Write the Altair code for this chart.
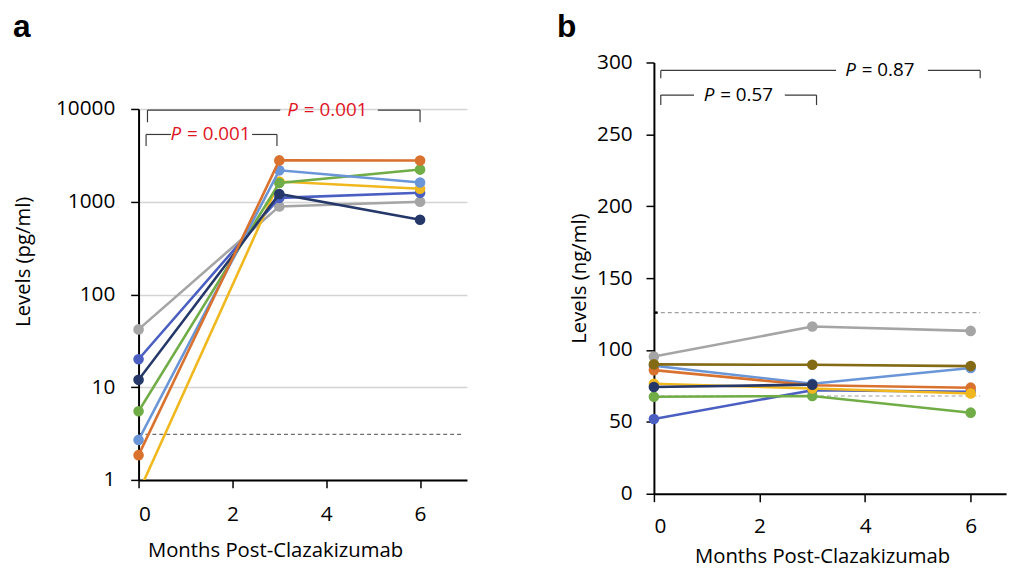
import altair as alt
import pandas as pd

MONTHS = [0, 3, 6]

COLORS = {
    "gray": "#A5A5A5",
    "royal": "#4A5FC1",
    "navy": "#253869",
    "green": "#70AD47",
    "lightblue": "#6A96D8",
    "orange": "#D9722F",
    "yellow": "#F0B81E",
    "olive": "#836A14",
}

# ---- Panel a (pg/ml, log scale)
A_SERIES = ["gray", "royal", "yellow", "green", "lightblue", "navy", "orange"]
A_M0 = [42, 20, 0.73, 5.5, 2.7, 12, 1.85]
A_M3 = [890, 1100, 1650, 1590, 2180, 1210, 2790]
A_M6 = [1000, 1250, 1380, 2220, 1610, 640, 2780]
A_LIMIT = 3.1
A_YTICKS = [1, 10, 100, 1000, 10000]

# brackets panel a
A_BR_X1 = [0.19, 0.16]
A_BR_X2 = [6.0, 2.95]
A_BR_Y = [9730, 5310]
A_BR_YT = [7180, 3990]
A_GAP1 = [3.02, 0.69]
A_GAP2 = [5.10, 2.42]
A_TXT_X = [3.46, 0.97]
A_P = ["= 0.001", "= 0.001"]

# ---- Panel b (ng/ml, linear)
B_SERIES = ["royal", "lightblue", "green", "orange", "yellow", "navy", "gray", "olive"]
B_M0 = [52, 89, 67.5, 86, 76.5, 74.3, 95.4, 90]
B_M3 = [72, 76.5, 68, 75.5, 73.2, 75.9, 116.3, 89.7]
B_M6 = [71, 87.5, 56.4, 73.8, 69.7, None, 113.3, 88.8]
B_LIMITS = [126, 68]
B_YTICKS = [0, 50, 100, 150, 200, 250, 300]

B_BR_X1 = [0.13, 0.13]
B_BR_X2 = [6.18, 3.08]
B_BR_Y = [294.5, 277.3]
B_BR_YT = [289, 270.4]
B_GAP1 = [3.45, 0.76]
B_GAP2 = [5.19, 2.48]
B_TXT_X = [3.88, 1.20]
B_P = ["= 0.87", "= 0.57"]

FONT = "Open Sans"
FS_LABEL = 21
FS_TITLE = 20.5
FS_P = 19


def long_df(series, m0, m3, m6):
    rows = []
    for i, s in enumerate(series):
        for m, v in zip(MONTHS, [m0[i], m3[i], m6[i]]):
            if v is not None:
                rows.append({"series": s, "month": m, "value": v})
    return pd.DataFrame(rows)


def bracket_df(x1, x2, y, yt, g1, g2):
    rows = []
    for i in range(len(x1)):
        rows.append({"xa": x1[i], "xb": g1[i], "ya": y[i], "yb": y[i]})
        rows.append({"xa": g2[i], "xb": x2[i], "ya": y[i], "yb": y[i]})
        rows.append({"xa": x1[i], "xb": x1[i], "ya": y[i], "yb": yt[i]})
        rows.append({"xa": x2[i], "xb": x2[i], "ya": y[i], "yb": yt[i]})
    return pd.DataFrame(rows)


def panel(df, series, xscale, yscale, xaxis, yaxis, width, height,
          limits, lim_end, lim_color, brackets, txt_x, txt_y, txt_p, txt_color):
    X = lambda f: alt.X(f, type="quantitative", scale=xscale, axis=xaxis)
    Y = lambda f: alt.Y(f, type="quantitative", scale=yscale, axis=yaxis)
    ymin = yscale.domain[0]
    layers = []
    lim_df = pd.DataFrame({"lim": limits})
    layers.append(
        alt.Chart(lim_df).mark_rule(strokeDash=[4, 3], strokeWidth=1.1, color=lim_color)
        .encode(x=alt.datum(0), x2=alt.datum(lim_end),
                y=alt.Y("lim:Q", scale=yscale, axis=yaxis))
    )
    layers.append(
        alt.Chart(lim_df).mark_rule(strokeWidth=2.5, color="black")
        .encode(x=alt.datum(0), x2=alt.datum(0.07),
                y=alt.Y("lim:Q", scale=yscale, axis=yaxis))
    )
    for s in series:
        sub = df[df.series == s]
        layers.append(
            alt.Chart(sub).mark_line(strokeWidth=2.6, clip=True, color=COLORS[s])
            .encode(x=X("month"), y=Y("value"))
        )
        # points outside the axis range are not drawn (off-scale)
        layers.append(
            alt.Chart(sub[sub.value >= ymin]).mark_circle(size=115, opacity=1,
                                                         color=COLORS[s])
            .encode(x=X("month"), y=Y("value"))
        )
    layers.append(
        alt.Chart(brackets).mark_rule(strokeWidth=1.2, color="#3a3a3a")
        .encode(x=X("xa"), x2="xb", y=Y("ya"), y2="yb")
    )
    tdf = pd.DataFrame({"tx": txt_x, "ty": txt_y, "tp": txt_p})
    layers.append(
        alt.Chart(tdf).mark_text(text="P", fontStyle="italic", align="right",
                                 baseline="middle", dx=-3, font=FONT,
                                 fontSize=FS_P, color=txt_color)
        .encode(x=X("tx"), y=Y("ty"))
    )
    layers.append(
        alt.Chart(tdf).mark_text(align="left", baseline="middle", dx=3,
                                 font=FONT, fontSize=FS_P, color=txt_color)
        .encode(x=X("tx"), y=Y("ty"), text="tp:N")
    )
    return alt.layer(*layers).properties(width=width, height=height)


def letter_box(letter, width, height, lx, ly):
    ldf = pd.DataFrame({"t": [letter]})
    return alt.Chart(ldf).mark_text(
        align="left", baseline="alphabetic", font="Liberation Sans",
        fontWeight="bold", fontSize=32, color="black"
    ).encode(x=alt.value(lx), y=alt.value(ly), text="t:N").properties(
        width=width, height=height)


axis_common = dict(
    domainColor="black", domainWidth=2, tickColor="black", tickWidth=1.5,
    tickSize=8, labelFont=FONT, labelFontSize=FS_LABEL, labelColor="black",
    titleFont=FONT, titleFontSize=FS_TITLE, titleFontWeight="normal",
    titleColor="black",
)

# panel a
dfa = long_df(A_SERIES, A_M0, A_M3, A_M6)
xs_a = alt.Scale(domain=[0, 7], nice=False)
ys_a = alt.Scale(type="log", domain=[1, 10000], nice=False)
xa_axis = alt.Axis(values=[0, 2, 4, 6], title="Months Post-Clazakizumab",
                   grid=False, titleX=138, labelPadding=16, titlePadding=16,
                   format="d", **axis_common)
ya_axis = alt.Axis(values=A_YTICKS, title="Levels (pg/ml)", grid=True,
                   gridColor="#d4d4d4", gridWidth=1.5, format="d",
                   titleY=154, labelPadding=16, titlePadding=22, **axis_common)
pa = panel(dfa, A_SERIES, xs_a, ys_a, xa_axis, ya_axis, 332, 375,
           [A_LIMIT], 6.93, "#6e6e6e",
           bracket_df(A_BR_X1, A_BR_X2, A_BR_Y, A_BR_YT, A_GAP1, A_GAP2),
           A_TXT_X, A_BR_Y, A_P, "#E0141E")

# panel b
dfb = long_df(B_SERIES, B_M0, B_M3, B_M6)
xs_b = alt.Scale(domain=[0, 6.67], nice=False)
ys_b = alt.Scale(domain=[0, 300], nice=False)
xb_axis = alt.Axis(values=[0, 2, 4, 6], title="Months Post-Clazakizumab",
                   grid=False, titleX=170, labelPadding=14, titlePadding=10,
                   format="d", **axis_common)
yb_axis = alt.Axis(values=B_YTICKS, title="Levels (ng/ml)", grid=False,
                   labelPadding=14, titlePadding=7, **axis_common)
pb = panel(dfb, B_SERIES, xs_b, ys_b, xb_axis, yb_axis, 356, 436,
           B_LIMITS, 6.18, "#a0a0a0",
           bracket_df(B_BR_X1, B_BR_X2, B_BR_Y, B_BR_YT, B_GAP1, B_GAP2),
           B_TXT_X, B_BR_Y, B_P, "black")

col_a = alt.vconcat(letter_box("a", 332, 82, -127, 20), pa, spacing=0)
col_b = alt.vconcat(letter_box("b", 356, 35, -98, 20), pb, spacing=0)

chart = (
    alt.hconcat(col_a, col_b, spacing=91)
    .properties(padding={"top": 0, "left": 5, "right": 5, "bottom": 0})
    .configure_view(strokeWidth=0)
)

chart.save("out.html", embed_options={"renderer": "svg", "actions": False})
